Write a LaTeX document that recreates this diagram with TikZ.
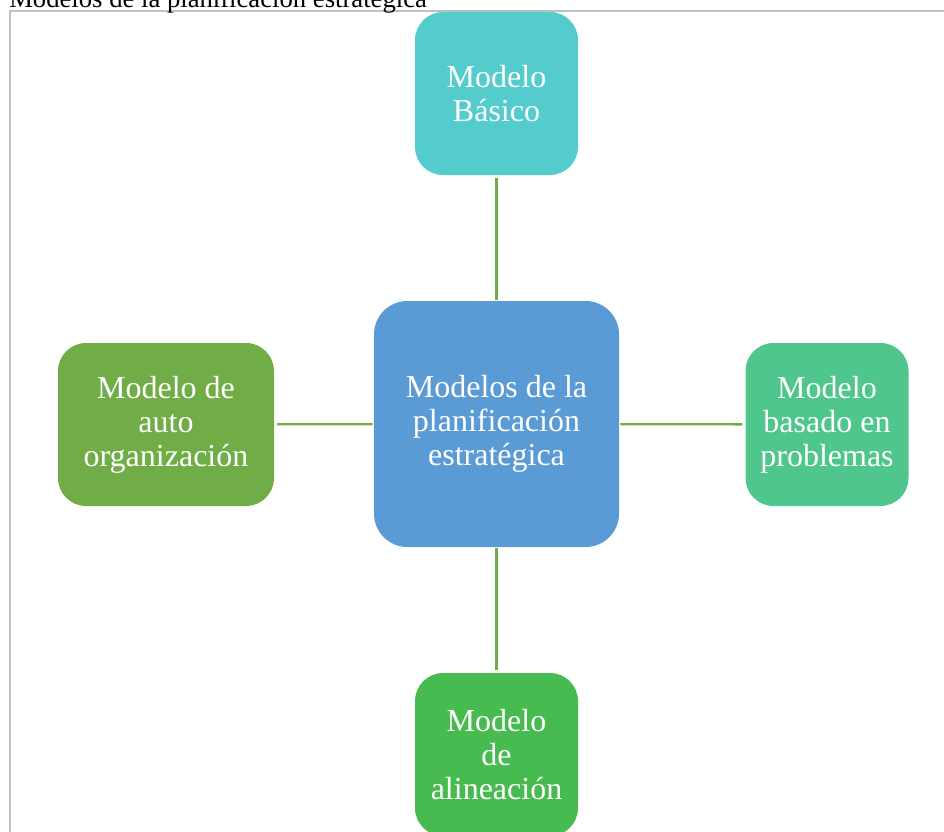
\documentclass[tikz,border=0pt]{standalone}
\usepackage{fontspec}
\setmainfont{Liberation Serif}
\usetikzlibrary{positioning}

\definecolor{tealbox}{HTML}{54CCCD}
\definecolor{bluebox}{HTML}{5B9BD5}
\definecolor{olivebox}{HTML}{70AD47}
\definecolor{mintbox}{HTML}{4EC68C}
\definecolor{greenbox}{HTML}{48BB50}
\definecolor{linkgreen}{HTML}{70AD47}
\definecolor{framegray}{HTML}{C0C0C0}

\begin{document}
\begin{tikzpicture}[
  x=0.75pt, y=-0.75pt,
  box/.style={rectangle, rounded corners=21pt, draw=none, text=white,
              minimum height=122.25pt, minimum width=122.25pt, inner sep=2pt,
              align=center, font=\fontsize{24}{25.5}\selectfont},
  hub/.style={box, fill=bluebox, rounded corners=25pt,
              minimum width=183.75pt, minimum height=184.5pt},
  link/.style={draw=linkgreen, line width=1.7pt, shorten <=2.2pt, shorten >=0.8pt}
]
\useasboundingbox (0,0) rectangle (944,831);
\clip (0,0) rectangle (944,831);

% frame and caption
\draw[framegray, line width=0.9pt] (10,840) -- (10,11) -- (950,11);
\node[anchor=base west, inner sep=0pt, font=\fontsize{20}{24}\selectfont] (title) at (9,8)
  {Modelos de la planificación estratégica};

% boxes
\node[hub] (plan) at (496.5,424) {Modelos de la\\planificación\\estratégica};
\node[box, fill=tealbox] (basico) at (496.5,93.5) {Modelo\\Básico};
\node[box, fill=olivebox, minimum width=162pt] (auto) at (166,424.5) {Modelo de\\auto\\organización};
\node[box, fill=mintbox] (problemas) at (827,424.5) {Modelo\\basado en\\problemas};
\node[box, fill=greenbox] (alineacion) at (496.5,754.5) {Modelo\\de\\alineación};

% connectors
\draw[link] (basico) -- (plan);
\draw[link] (auto) -- (plan);
\draw[link] (problemas) -- (plan);
\draw[link] (alineacion) -- (plan);
\end{tikzpicture}
\end{document}
